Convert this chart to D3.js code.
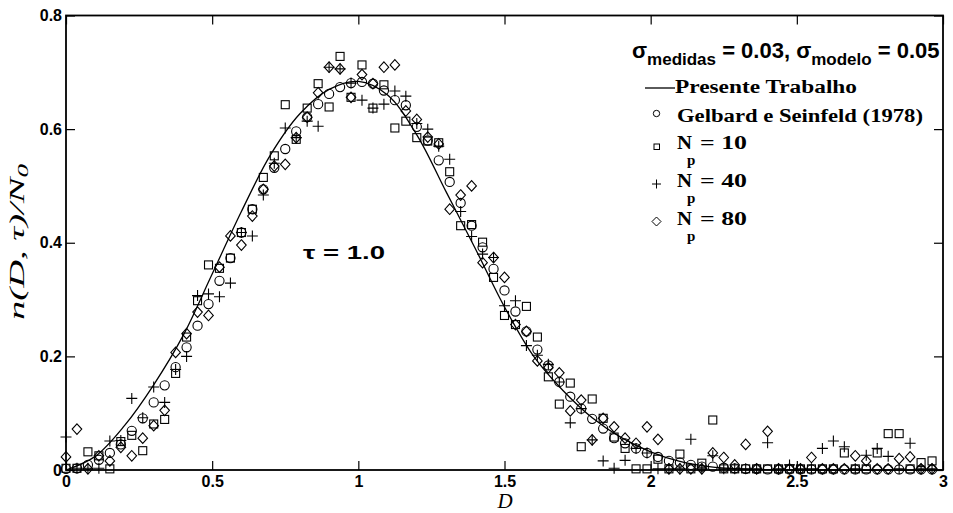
<!DOCTYPE html>
<html><head><meta charset="utf-8">
<script src="https://cdn.jsdelivr.net/npm/d3@7"></script>
<style>body{margin:0;background:#fff}svg{display:block}</style>
</head><body>
<svg id="chart" width="953" height="513"></svg>
<script>
// ---- data ----
const dGrid = [0,0.0375,0.075,0.1125,0.15,0.1875,0.225,0.2625,0.3,0.3375,
0.375,0.4125,0.45,0.4875,0.525,0.5625,0.6,0.6375,0.675,0.7125,
0.75,0.7875,0.825,0.8625,0.9,0.9375,0.975,1.0125,1.05,1.0875,
1.125,1.1625,1.2,1.2375,1.275,1.3125,1.35,1.3875,1.425,1.4625,
1.5,1.5375,1.575,1.6125,1.65,1.6875,1.725,1.7625,1.8,1.8375,
1.875,1.9125,1.95,1.9875,2.025,2.0625,2.1,2.1375,2.175,2.2125,
2.25,2.2875,2.325,2.3625,2.4,2.4375,2.475,2.5125,2.55,2.5875,
2.625,2.6625,2.7,2.7375,2.775,2.8125,2.85,2.8875,2.925,2.9625];

const gelbard = [0.002,0.003,0.009,0.018,0.030,0.045,0.069,0.091,0.119,0.149,
0.181,0.216,0.254,0.292,0.333,0.373,0.418,0.459,0.494,0.532,
0.565,0.596,0.621,0.644,0.662,0.674,0.681,0.683,0.680,0.668,
0.651,0.642,0.604,0.580,0.545,0.507,0.470,0.430,0.392,0.354,
0.316,0.279,0.244,0.212,0.184,0.155,0.129,0.108,0.090,0.073,
0.056,0.047,0.038,0.030,0.023,0.016,0.013,0.009,0.006,0.006,
0.004,0.003,0.002,0.002,0.001,0.001,0.001,0.001,0.001,0.001,
0.001,0.001,0.001,0.001,0.001,0.001,0.001,0.001,0.001,0.001];

const np10 = [0.003,0.003,0.032,0.025,0.002,0.050,0.061,0.034,0.081,0.089,
0.170,0.234,0.298,0.361,0.355,0.373,0.418,0.459,0.515,0.553,
0.643,0.582,0.637,0.680,0.639,0.728,0.656,0.713,0.637,0.678,
0.602,0.614,0.585,0.579,0.576,0.525,0.430,0.432,0.401,0.339,
0.272,0.256,0.288,0.234,0.164,0.116,0.153,0.041,0.125,0.091,
0.058,0.038,0.002,0.002,0.019,0.002,0.028,0.002,0.012,0.088,
0.002,0.002,0.002,0.002,0.002,0.002,0.002,0.002,0.002,0.002,
0.002,0.030,0.002,0.002,0.030,0.064,0.064,0.002,0.013,0.016];

const np40 = [0.058,0.003,0.003,0.003,0.051,0.052,0.126,0.092,0.146,0.119,
0.177,0.200,0.307,0.310,0.305,0.329,0.418,0.412,0.484,0.540,
0.602,0.585,0.614,0.605,0.709,0.706,0.681,0.651,0.637,0.644,
0.667,0.658,0.610,0.600,0.570,0.547,0.455,0.411,0.380,0.374,
0.289,0.298,0.219,0.202,0.186,0.155,0.083,0.108,0.053,0.016,
0.003,0.017,0.038,0.030,0.002,0.002,0.002,0.054,0.002,0.025,
0.002,0.002,0.002,0.002,0.048,0.002,0.009,0.002,0.002,0.038,
0.051,0.041,0.002,0.026,0.038,0.024,0.002,0.047,0.002,0.002];

const np80 = [0.023,0.072,0.002,0.025,0.016,0.040,0.025,0.056,0.078,0.105,
0.207,0.240,0.278,0.272,0.357,0.412,0.396,0.447,0.494,0.535,
0.538,0.585,0.621,0.664,0.709,0.706,0.656,0.696,0.680,0.709,
0.713,0.632,0.617,0.586,0.574,0.459,0.484,0.500,0.365,0.374,
0.339,0.256,0.244,0.192,0.180,0.171,0.104,0.123,0.053,0.091,
0.076,0.056,0.047,0.076,0.054,0.002,0.002,0.002,0.002,0.030,
0.022,0.009,0.045,0.002,0.068,0.002,0.002,0.002,0.022,0.002,
0.002,0.002,0.025,0.016,0.002,0.002,0.020,0.023,0.002,0.002];

// "Presente Trabalho" curve
const curveD = [0,0.1,0.2,0.3,0.4,0.5,0.6,0.7,0.8,0.9,1.0,1.1,1.2,1.3,1.4,1.5,1.6,1.7,1.8,1.9,2.0,2.1,2.2,2.3,2.5,3.0];
const curveV = [0,0.024,0.078,0.150,0.236,0.345,0.455,0.555,0.627,0.670,0.684,0.660,0.590,0.490,0.390,0.287,0.200,0.140,0.092,0.057,0.032,0.015,0.006,0.002,0.0,0.0];

const xTicks = [0,0.5,1,1.5,2,2.5,3];
const xTickLabels = ["0","0.5","1","1.5","2","2.5","3"];
const yTicks = [0,0.2,0.4,0.6,0.8];
const yTickLabels = ["0","0.2","0.4","0.6","0.8"];

// ---- drawing ----
const svg = d3.select("#chart");
const x = d3.scaleLinear().domain([0,3]).range([66,943]);
const y = d3.scaleLinear().domain([0,0.8]).range([470,15.5]);

const sans = "'Liberation Sans', Arial, Helvetica, sans-serif";
const serif = "'Liberation Serif', 'Times New Roman', serif";

// curve
const curvePts = curveD.map((d,i)=>[d,curveV[i]]);
svg.append("path")
  .attr("d", d3.line().x(d=>x(d[0])).y(d=>y(d[1])).curve(d3.curveCatmullRom.alpha(0.5))(curvePts))
  .attr("fill","none").attr("stroke","#000").attr("stroke-width",1.3);

const mk = {
  circle: g => g.append("circle").attr("r",4.6),
  square: g => g.append("rect").attr("x",-4).attr("y",-4).attr("width",8).attr("height",8),
  plus: g => g.append("path").attr("d","M-5.5,0H5.5M0,-5.5V5.5"),
  diamond: g => g.append("path").attr("d","M0,-5.3L4.8,0L0,5.3L-4.8,0Z")
};
function drawSeries(vals, kind){
  const g = svg.append("g").attr("fill","none").attr("stroke","#000").attr("stroke-width",1.1);
  vals.forEach((v,i)=>{
    const p = g.append("g").attr("transform",`translate(${x(dGrid[i])},${y(v)})`);
    mk[kind](p);
  });
}
drawSeries(gelbard,"circle");
drawSeries(np10,"square");
drawSeries(np40,"plus");
drawSeries(np80,"diamond");

// axes
const axStyle = g => { g.select(".domain").remove(); g.selectAll("line").attr("stroke","#000").attr("stroke-width",1.2); };
const bx = svg.append("g").attr("transform","translate(0,470)")
  .call(d3.axisBottom(x).tickValues(xTicks).tickFormat((d,i)=>xTickLabels[i]).tickSizeInner(-9).tickSizeOuter(0).tickPadding(6));
bx.call(axStyle);
bx.selectAll("text").attr("font-family",sans).attr("font-weight","bold").attr("font-size",16).attr("fill","#000");
const tx = svg.append("g").attr("transform","translate(0,15.5)")
  .call(d3.axisTop(x).tickValues(xTicks).tickFormat("").tickSizeInner(-9).tickSizeOuter(0));
tx.call(axStyle);
const ly = svg.append("g").attr("transform","translate(66,0)")
  .call(d3.axisLeft(y).tickValues(yTicks).tickFormat((d,i)=>yTickLabels[i]).tickSizeInner(-9).tickSizeOuter(0).tickPadding(4));
ly.call(axStyle);
ly.selectAll("text").attr("font-family",sans).attr("font-weight","bold").attr("font-size",16).attr("fill","#000");
const ry = svg.append("g").attr("transform","translate(943,0)")
  .call(d3.axisRight(y).tickValues(yTicks).tickFormat("").tickSizeInner(-9).tickSizeOuter(0));
ry.call(axStyle);

// frame
svg.append("rect").attr("x",66).attr("y",15.5).attr("width",943-66).attr("height",470-15.5)
  .attr("fill","none").attr("stroke","#000").attr("stroke-width",1.8);

// axis titles
svg.append("text").attr("x",505).attr("y",508).attr("text-anchor","middle")
  .attr("font-family",serif).attr("font-style","italic").attr("font-size",21).text("D");
const yl = svg.append("text").attr("transform","translate(24,242) rotate(-90)").attr("text-anchor","middle")
  .attr("font-family",serif).attr("font-style","italic").attr("font-size",20)
  .attr("textLength",156).attr("lengthAdjust","spacingAndGlyphs");
yl.append("tspan").text("n(D, τ)/N");
yl.append("tspan").attr("font-size",14).attr("dy",4).text("0");

// tau label
svg.append("text").attr("x",303).attr("y",259).attr("font-family",sans).attr("font-weight","bold")
  .attr("font-size",19).attr("textLength",82).attr("lengthAdjust","spacingAndGlyphs").text("τ = 1.0");

// legend
const lg = svg.append("g");
const st = lg.append("text").attr("x",632).attr("y",58).attr("font-family",sans).attr("font-weight","bold").attr("font-size",22);
st.append("tspan").text("σ");
st.append("tspan").attr("font-size",17).attr("dy",7).text("medidas");
st.append("tspan").attr("dy",-7).text(" = 0.03, σ");
st.append("tspan").attr("font-size",17).attr("dy",7).text("modelo");
st.append("tspan").attr("dy",-7).text(" = 0.05");

lg.append("line").attr("x1",645).attr("x2",675).attr("y1",88).attr("y2",88).attr("stroke","#000").attr("stroke-width",1.3);
const lt = (xx,yy,t,len,fs)=>lg.append("text").attr("x",xx).attr("y",yy).attr("font-family",serif).attr("font-weight","bold")
  .attr("font-size",fs||18).attr("textLength",len).attr("lengthAdjust","spacingAndGlyphs").text(t);
lt(675,93,"Presente Trabalho",182);
lt(677,122,"Gelbard e Seinfeld (1978)",246);
const rows = [["10",149],["40",187],["80",225]];
rows.forEach(([n,yy])=>{
  lt(677,yy,"N",15);
  lg.append("text").attr("x",687).attr("y",yy+16).attr("font-family",serif).attr("font-weight","bold").attr("font-size",15).text("p");
  lt(700,yy,"= "+n,47);
});
const lm = lg.append("g").attr("fill","none").attr("stroke","#000").attr("stroke-width",1);
lm.append("circle").attr("cx",656.5).attr("cy",113.5).attr("r",3.2);
lm.append("rect").attr("x",654).attr("y",144).attr("width",5.5).attr("height",5.5);
lm.append("path").attr("d","M652,184H661M656.5,179.5V188.5");
lm.append("path").attr("d","M656.5,217L661,221.5L656.5,226L652,221.5Z");
</script>
</body></html>
